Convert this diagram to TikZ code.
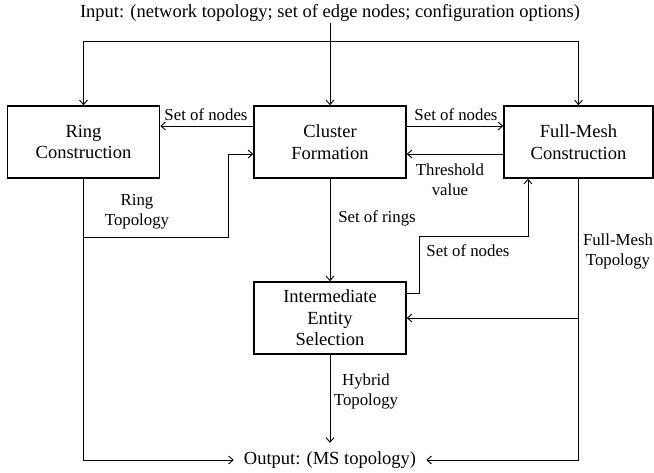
\documentclass[tikz,border=0pt]{standalone}
\usepackage{fontspec}
\setmainfont{Liberation Serif}
\usetikzlibrary{arrows.meta}
\begin{document}
\begin{tikzpicture}[x=1pt,y=-1pt,
  >={Straight Barb[length=4.5pt,width=8pt]},
  block/.style={draw,line width=1.6pt,minimum width=152pt,minimum height=72pt,
    align=center,inner sep=0pt,font=\fontsize{18.5}{21.5}\selectfont},
  link/.style={line width=0.9pt,->},
  plain/.style={line width=0.9pt},
  lbl/.style={align=center,inner sep=0pt,font=\fontsize{16.8}{20}\selectfont},
  io/.style={align=center,font=\fontsize{18.5}{21.5}\selectfont},
  ]
\useasboundingbox (0,0) rectangle (654,472);

% input / output
\node[io,inner xsep=2pt,inner ysep=1.5pt] (in) at (330,13)
  {Input: (network topology; set of edge nodes; configuration options)};
\node[io,inner xsep=10pt,inner ysep=8.6pt] (out) at (330,460) {Output: (MS topology)};

% processing blocks
\node[block] (ring) at (83.5,142) {Ring\\Construction};
\node[block] (clu) at (330,142) {Cluster\\Formation};
\node[block,minimum width=149pt] (fm) at (578.5,142) {Full-Mesh\\Construction};
\node[block] (ies) at (330,318) {Intermediate\\Entity\\Selection};

% input distribution
\coordinate (top) at (330,41);
\draw[link] (in.south) -- (clu.north);
\draw[link] (top) -| (ring.north);
\draw[link] (top) -| (fm.north);

% cluster formation <-> constructions
\draw[link] ([yshift=16pt]clu.west) -- ([yshift=16pt]ring.east);
\node[lbl] (lsn1) at (206,115) {Set of nodes};
\draw[link] ([yshift=16pt]clu.east) -- ([yshift=16pt]fm.west);
\node[lbl] (lsn2) at (456,115) {Set of nodes};
\draw[link] ([yshift=-12pt]fm.west) -- ([yshift=-12pt]clu.east);
\node[lbl] (lthr) at (450,180) {Threshold\\value};

% ring topology
\coordinate (rt) at (228,237);
\draw[link] (ring.south) -- (ring.south |- rt) -- (rt) |- ([yshift=-12pt]clu.west);
\node[lbl] (lrt) at (137,212) {Ring\\Topology};
\draw[link] (ring.south |- rt) |- (out.west);

% set of rings
\draw[link] (clu.south) -- (ies.north);
\node[lbl] (lsr) at (377,218) {Set of rings};

% set of nodes back to full-mesh
\coordinate (sn1) at (419,236);
\coordinate (sn2) at (528,236);
\draw[link] ([yshift=25pt]ies.east) -| (sn1) -| (sn2 |- fm.south);
\node[lbl] (lsn3) at (468,251) {Set of nodes};

% full-mesh topology
\coordinate (fmj) at (fm.south |- ies.east);
\draw[plain] (fm.south) -- (fmj);
\draw[link] (fmj) -- (ies.east);
\draw[link] (fmj) |- (out.east);
\node[lbl] (lfm) at (618,251) {Full-Mesh\\Topology};

% hybrid topology
\draw[link] (ies.south) -- (out.north);
\node[lbl] (lhy) at (366,391) {Hybrid\\Topology};
\end{tikzpicture}
\end{document}
